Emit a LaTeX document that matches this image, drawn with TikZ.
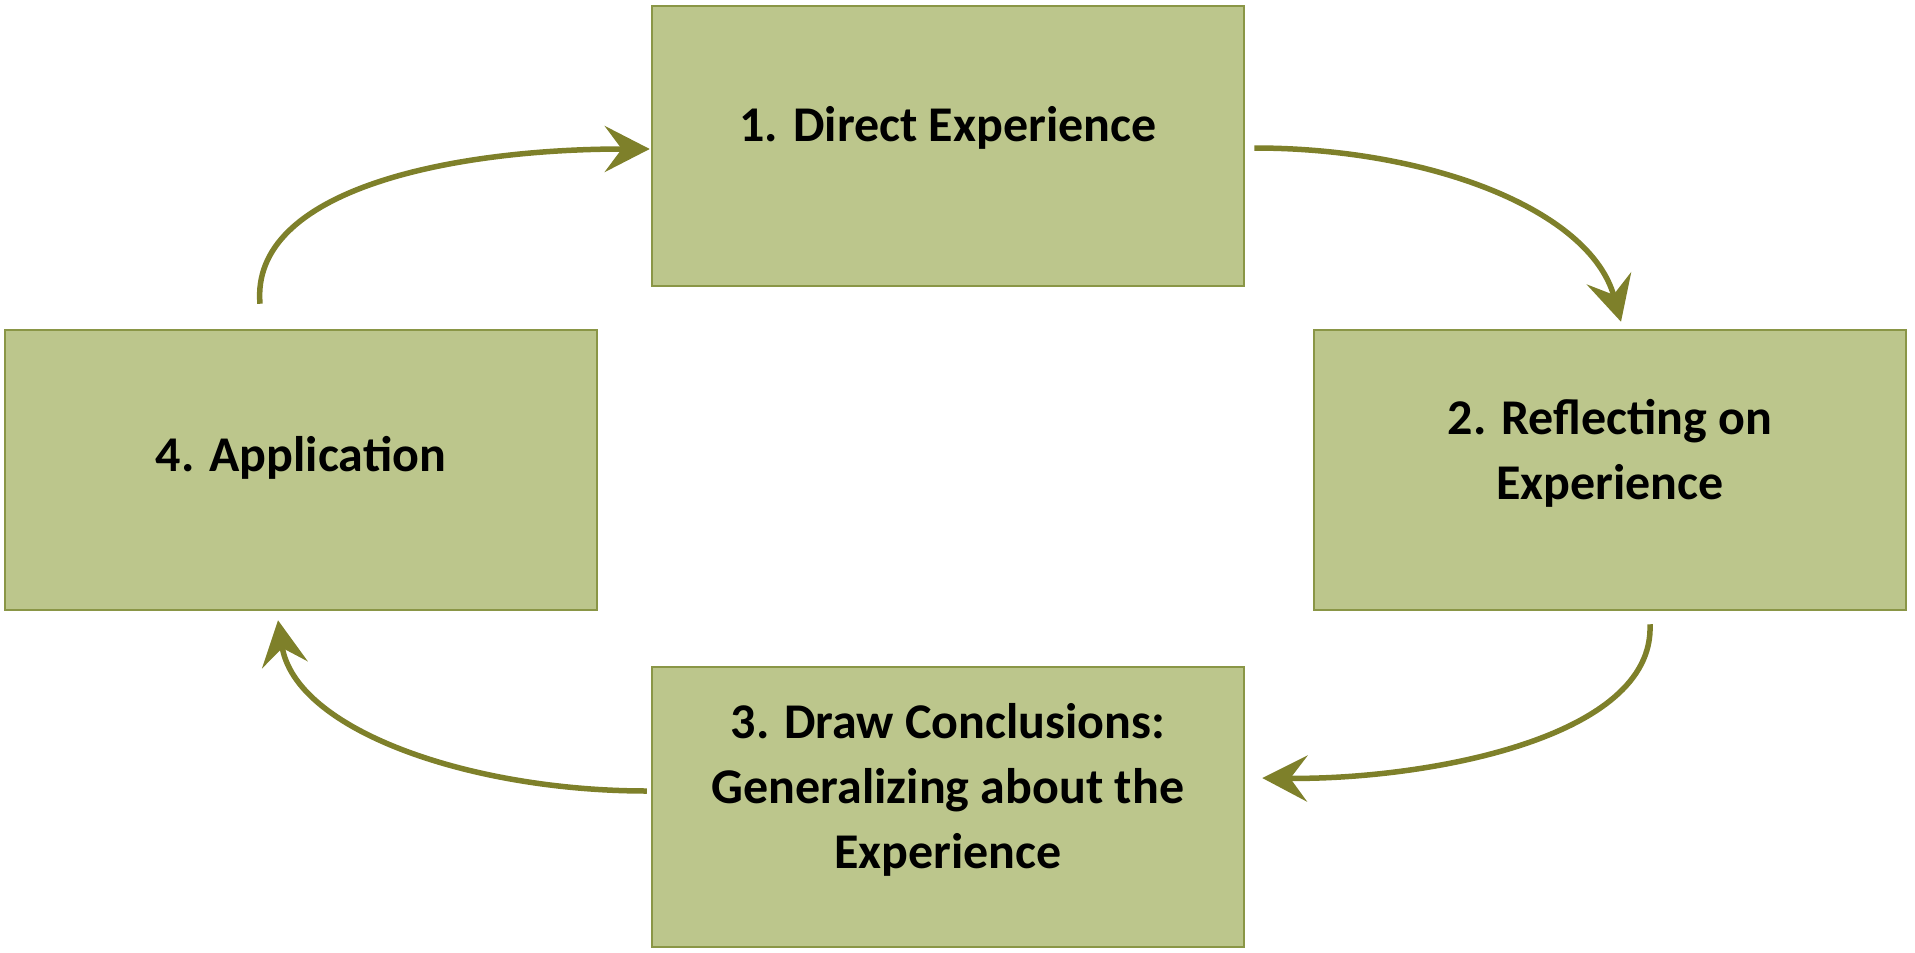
\documentclass[tikz,border=0pt]{standalone}
\usepackage{fontspec}
\setmainfont{Carlito}
\usetikzlibrary{arrows.meta,calc}
\definecolor{boxfill}{RGB}{188,198,140}
\definecolor{boxline}{RGB}{138,150,70}
\definecolor{arrowcol}{RGB}{126,128,42}
\tikzset{
  stagebox/.style={draw=boxline, fill=boxfill, line width=2.5pt, minimum width=592pt, minimum height=280pt, inner sep=0pt},
  stagetext/.style={font=\fontsize{50}{65}\selectfont\bfseries, align=center, text=black, inner sep=0pt},
  cyclearrow/.style={draw=arrowcol, line width=5.5pt, -{Stealth[length=45pt, width=46pt, inset=17pt, fill=arrowcol]}}
}
\begin{document}
\begin{tikzpicture}[x=1pt,y=-1pt]
\useasboundingbox (0,0) rectangle (1915,953);
\node[stagebox] (b1) at (948,146) {};
\node[stagebox] (b2) at (1610,470) {};
\node[stagebox] (b3) at (948,807) {};
\node[stagebox] (b4) at (301,470) {};
\node[stagetext] (t1) at (948,128) {1. Direct Experience};
\node[stagetext] (t2) at (1610,453) {2. Reflecting on\\Experience};
\node[stagetext] (t3) at (948,790) {3. Draw Conclusions:\\Generalizing about the\\Experience};
\node[stagetext] (t4) at (301,458) {4. Application};
\coordinate (a1s) at ($(b1.east)+(9,2)$);
\coordinate (a1e) at ($(b2.north)+(11,-7)$);
\coordinate (a2s) at ($(b2.south)+(40,13)$);
\coordinate (a2e) at ($(b3.east)+(17,-29)$);
\coordinate (a3s) at ($(b3.west)+(-4,-16)$);
\coordinate (a3e) at ($(b4.south)+(-23,9)$);
\coordinate (a4s) at ($(b4.north)+(-41,-25)$);
\coordinate (a4e) at ($(b1.west)+(-1,3)$);
\draw[cyclearrow] (a1s) .. controls (1430,148) and (1590,210) .. (a1e);
\draw[cyclearrow] (a2s) .. controls (1655,740) and (1420,780) .. (a2e);
\draw[cyclearrow] (a3s) .. controls (470,791) and (295,730) .. (a3e);
\draw[cyclearrow] (a4s) .. controls (250,190) and (450,149) .. (a4e);
\end{tikzpicture}
\end{document}
